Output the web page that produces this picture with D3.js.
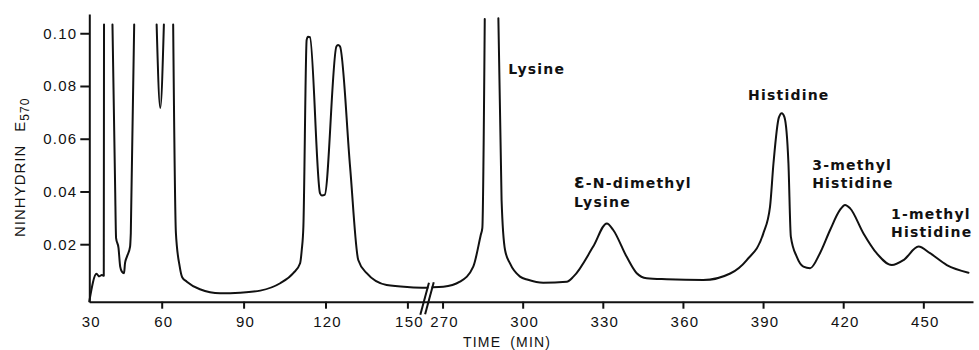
<!DOCTYPE html>
<html>
<head>
<meta charset="utf-8">
<script src="https://cdn.jsdelivr.net/npm/d3@7"></script>
<style>
  html, body { margin: 0; padding: 0; background: #fff; }
  svg { display: block; }
</style>
</head>
<body>
<svg id="chart" width="979" height="350"></svg>
<script>
// Elution time (min) of the amino-acid analyser run
const timeMin = [
  30.0, 33.0, 34.0, 35.2, 36.0, 36.1,
  38.0,
  39.6, 40.7, 41.1, 42.1, 42.8, 43.5, 44.4, 44.8, 45.6, 46.9, 47.2, 48.6,
  53.0,
  57.9, 59.4, 60.8,
  62.0,
  64.2, 65.2, 66.6, 67.5, 69.2, 74.0, 81.4, 88.7, 96.1, 103.4, 108.2, 110.7, 111.3,
  111.9, 113.1, 113.6, 114.3, 118.0, 118.7, 119.7, 124.0, 124.6, 125.3, 129.0,
  132.0, 135.1, 142.4, 151.0, 157.4,
  200.0,
  266.2, 270.3, 276.5, 281.5, 284.3, 284.9, 285.8,
  288.0,
  290.9, 292.1, 293.4, 295.2, 299.0, 302.0, 307.7, 316.5, 319.0, 326.4, 331.5,
  333.9, 338.9, 342.7, 346.4, 353.9, 367.6, 377.7, 383.9, 390.1, 392.6, 393.9,
  395.9, 397.0, 398.0, 399.5, 400.4, 402.6, 405.1, 407.6, 411.3, 415.1, 418.8,
  420.7, 422.6, 427.6, 432.6, 438.2, 442.6, 448.2, 452.5, 458.8, 466.9
];

// Ninhydrin absorbance E570; null where the pen ran off the top of the chart
const absorbance = [
  -0.0017, 0.0088, 0.0078, 0.0083, 0.0080, 0.1033,
  null,
  0.1033, 0.0418, 0.0223, 0.0186, 0.0115, 0.0096, 0.0090, 0.0128, 0.0153, 0.0191, 0.0242, 0.1033,
  null,
  0.1033, 0.0717, 0.1033,
  null,
  0.1033, 0.0243, 0.0115, 0.0075, 0.0058, 0.0029, 0.0014, 0.0016, 0.0024, 0.0052, 0.0090, 0.0128, 0.0178,
  0.0267, 0.0975, 0.0987, 0.0985, 0.0393, 0.0385, 0.0387, 0.0950, 0.0955, 0.0950, 0.0494,
  0.0140, 0.0090, 0.0045, 0.0037, 0.0035,
  null,
  0.0037, 0.0039, 0.0058, 0.0115, 0.0235, 0.0262, 0.1054,
  null,
  0.1057, 0.0368, 0.0178, 0.0128, 0.0077, 0.0065, 0.0054, 0.0058, 0.0077, 0.0191, 0.0279,
  0.0254, 0.0153, 0.0090, 0.0071, 0.0067, 0.0064, 0.0089, 0.0140, 0.0241, 0.0342, 0.0507,
  0.0680, 0.0697, 0.0682, 0.0507, 0.0229, 0.0153, 0.0115, 0.0109, 0.0166, 0.0254, 0.0330,
  0.0349, 0.0336, 0.0241, 0.0165, 0.0121, 0.0140, 0.0191, 0.0166, 0.0121, 0.0092
];

const yTicks = [0.02, 0.04, 0.06, 0.08, 0.10];
const xTicks = [30, 60, 90, 120, 150, 270, 300, 330, 360, 390, 420, 450];

// Peak identifications, anchored in data units (time, absorbance) at the first line's baseline
const peakNames = [
  ["Lysine"],
  ["\u03b5-N-dimethyl", "Lysine"],
  ["Histidine"],
  ["3-methyl", "Histidine"],
  ["1-methyl", "Histidine"]
];
const peakLabelTime = [294.6, 319.2, 384.4, 408.4, 437.9];
const peakLabelAbs  = [0.0847, 0.0413, 0.0747, 0.0482, 0.0297];

// Time axis is broken between 157 and 266 min
const breakLeft = 157.4, breakRight = 266.2;

const svg = d3.select("#chart");

const x = d3.scaleLinear()
  .domain([30, 60, breakLeft, breakRight, 468.6])
  .range([89.3, 161.7, 427.6, 432.4, 973]);

const y = d3.scaleLinear()
  .domain([-0.0018, 0.1073])
  .range([301.7, 14]);

const tickFont = "'Liberation Sans', Arial, Helvetica, sans-serif";
const labelFont = "'DejaVu Sans', Verdana, sans-serif";

// Trace
const points = timeMin.map((t, i) => ({ t, v: absorbance[i] }));
const line = d3.line()
  .defined(d => d.v !== null)
  .x(d => x(d.t))
  .y(d => y(d.v))
  .curve(d3.curveMonotoneX);

svg.append("path")
  .datum(points)
  .attr("d", line)
  .attr("fill", "none")
  .attr("stroke", "#111")
  .attr("stroke-width", 2)
  .attr("stroke-linejoin", "round")
  .attr("stroke-linecap", "round");

// Y axis
const yAxis = svg.append("g")
  .attr("transform", `translate(${x(30)},0)`)
  .call(d3.axisLeft(y)
    .tickValues(yTicks)
    .tickSize(9)
    .tickSizeOuter(0)
    .tickPadding(3)
    .tickFormat(d3.format(".2f")));

// X axis
const xAxis = svg.append("g")
  .attr("transform", `translate(0,${y(-0.0018)})`)
  .call(d3.axisBottom(x)
    .tickValues(xTicks)
    .tickSize(7)
    .tickSizeOuter(0)
    .tickPadding(7.5)
    .tickFormat(d3.format("d")));

xAxis.selectAll(".tick").filter(d => d === 30).select("line").remove();

[yAxis, xAxis].forEach(g => {
  g.select(".domain").attr("stroke", "#111").attr("stroke-width", 2);
  g.selectAll(".tick line").attr("stroke", "#111").attr("stroke-width", 2);
  g.selectAll(".tick text")
    .attr("fill", "#111")
    .style("font-family", tickFont)
    .style("font-size", "15px")
    .style("letter-spacing", "1.2px");
});
xAxis.selectAll(".tick text").attr("dx", 1.5);

// Axis break marks crossing trace and time axis
const slope = -0.27;
[[breakLeft, absorbance[timeMin.indexOf(breakLeft)]],
 [breakRight, absorbance[timeMin.indexOf(breakRight)]]].forEach(([t, v]) => {
  const cx = x(t), cy = y(v);
  const y1 = cy - 5, y2 = cy + 27;
  svg.append("line")
    .attr("x1", cx + slope * (y1 - cy)).attr("y1", y1)
    .attr("x2", cx + slope * (y2 - cy)).attr("y2", y2)
    .attr("stroke", "#111")
    .attr("stroke-width", 2);
});

// Axis titles
svg.append("text")
  .attr("x", 463)
  .attr("y", 346.5)
  .attr("fill", "#111")
  .style("font-family", tickFont)
  .style("font-size", "14px")
  .style("letter-spacing", "1.2px")
  .call(t => {
    t.append("tspan").text("TIME");
    t.append("tspan").attr("dx", 9).text("(MIN)");
  });

svg.append("text")
  .attr("transform", "translate(25,237) rotate(-90)")
  .attr("fill", "#111")
  .style("font-family", tickFont)
  .style("font-size", "15px")
  .style("letter-spacing", "1px")
  .call(t => {
    t.append("tspan").text("NINHYDRIN");
    t.append("tspan").attr("dx", 13).text("E");
    t.append("tspan").attr("dy", 4).style("font-size", "12px").text("570");
  });

// Peak labels
peakNames.forEach((lines, i) => {
  const tx = x(peakLabelTime[i]);
  const ty = y(peakLabelAbs[i]);
  const txt = svg.append("text")
    .attr("fill", "#111")
    .style("font-family", labelFont)
    .style("font-weight", "bold")
    .style("font-size", "14px")
    .style("letter-spacing", "1.2px");
  lines.forEach((s, j) => {
    const ts = txt.append("tspan")
      .attr("x", tx)
      .attr("y", ty + j * 18.5);
    if (s.startsWith("\u03b5")) {
      ts.append("tspan").style("font-size", "19px").text("\u03b5");
      ts.append("tspan").text(s.slice(1));
    } else {
      ts.text(s);
    }
  });
});
</script>
</body>
</html>
